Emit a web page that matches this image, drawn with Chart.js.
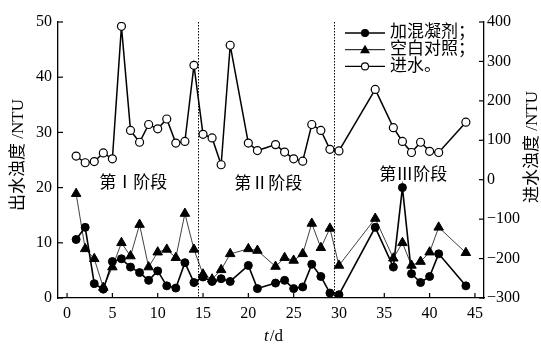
<!DOCTYPE html>
<html lang="zh">
<head>
  <meta charset="UTF-8" />
  <title>出水浊度与进水浊度</title>
  <script src="https://cdn.jsdelivr.net/npm/chart.js"></script>
  <style>
    html, body { margin: 0; padding: 0; background: #ffffff; }
    #wrap { width: 541px; height: 346px; position: relative; }
  </style>
</head>
<body>
  <div id="wrap"><canvas id="turbChart" width="541" height="346"></canvas></div>

  <script>
    // 采样时间 (d)
    const days = [1, 2, 3, 4, 5, 6, 7, 8, 9, 10, 11, 12, 13, 14, 15, 16, 17, 18,
                  20, 21, 23, 24, 25, 26, 27, 28, 29, 30, 34, 36, 37, 38, 39, 40, 41, 44];
    // 加混凝剂 出水浊度 (左轴)
    const coagulant = [10.6, 12.8, 2.6, 1.6, 6.6, 7.1, 5.6, 4.6, 3.2, 4.9, 2.2, 1.8, 6.4, 2.8, 3.8, 3.0, 3.5, 3.0,
                       5.9, 1.7, 2.7, 3.2, 1.7, 2.0, 6.1, 3.9, 0.9, 0.6, 12.8, 5.6, 20.0, 4.4, 2.8, 3.9, 8.0, 2.2];
    // 空白对照 出水浊度 (左轴)
    const blank = [18.9, 8.9, 7.1, 1.9, 5.6, 10.0, 7.6, 13.3, 5.6, 8.3, 8.8, 7.3, 15.3, 8.8, 4.3, 3.4, 5.1, 8.0,
                   8.9, 8.6, 5.7, 7.3, 6.8, 8.0, 13.5, 9.1, 12.6, 5.9, 14.4, 7.2, 10.0, 5.9, 6.6, 8.3, 12.8, 8.2];
    // 进水浊度 (右轴)
    const influent = [60, 43, 46, 68, 53, 389, 125, 95, 140, 129, 154, 93, 97, 290, 115, 106, 38, 341,
                      93, 74, 89, 70, 53, 47, 140, 125, 77, 73, 229, 132, 97, 69, 95, 72, 69, 146];

    const seriesNames = ["加混凝剂；", "空白对照；", "进水。"];
    const xTicks = [0, 5, 10, 15, 20, 25, 30, 35, 40, 45];
    const leftTicks = [0, 10, 20, 30, 40, 50];
    const rightTicks = [-300, -200, -100, 0, 100, 200, 300, 400];
    const phaseBounds = [14.5, 29.5];
    const phaseNames = ["第Ⅰ阶段", "第Ⅱ阶段", "第Ⅲ阶段"];

    const serif = "'Liberation Serif', 'Noto Sans CJK SC', serif";
    const toPoints = vals => vals.map((v, i) => ({ x: days[i], y: v }));

    const decorPlugin = {
      id: "decor",
      afterDatasetsDraw(chart) {
        const ctx = chart.ctx;
        const area = chart.chartArea;
        const sx = chart.scales.x, sy = chart.scales.y, sy1 = chart.scales.y1;

        ctx.save();
        // 阶段分界虚线
        ctx.strokeStyle = "#000";
        ctx.lineWidth = 1;
        ctx.setLineDash([1.5, 1.5]);
        phaseBounds.forEach(b => {
          const px = Math.round(sx.getPixelForValue(b)) + 0.5;
          ctx.beginPath();
          ctx.moveTo(px, area.top);
          ctx.lineTo(px, area.bottom);
          ctx.stroke();
        });
        ctx.setLineDash([]);

        // 内向刻度
        ctx.lineWidth = 1.2;
        xTicks.forEach(t => {
          const px = sx.getPixelForValue(t);
          ctx.beginPath();
          ctx.moveTo(px, area.bottom);
          ctx.lineTo(px, area.bottom - 5);
          ctx.stroke();
        });
        leftTicks.forEach(t => {
          const py = sy.getPixelForValue(t);
          ctx.beginPath();
          ctx.moveTo(area.left, py);
          ctx.lineTo(area.left + 5, py);
          ctx.stroke();
        });
        rightTicks.forEach(t => {
          const py = sy1.getPixelForValue(t);
          ctx.beginPath();
          ctx.moveTo(area.right, py);
          ctx.lineTo(area.right - 5, py);
          ctx.stroke();
        });

        // 阶段文字
        ctx.fillStyle = "#000";
        ctx.font = "17px " + serif;
        ctx.textAlign = "center";
        ctx.textBaseline = "middle";
        const phasePos = [[7.3, 20.8], [22.2, 20.6], [38.2, 22.2]];
        phaseNames.forEach((n, i) => {
          ctx.fillText(n, sx.getPixelForValue(phasePos[i][0]), sy.getPixelForValue(phasePos[i][1]));
        });

        // 图例
        const lx = 345, ly = 33, gap = 16.7;
        chart.data.datasets.forEach((ds, i) => {
          const y = ly + i * gap;
          ctx.strokeStyle = "#000";
          ctx.lineWidth = i === 1 ? 1 : 1.4;
          ctx.beginPath();
          ctx.moveTo(lx, y);
          ctx.lineTo(lx + 40, y);
          ctx.stroke();
          ctx.beginPath();
          if (i === 1) {
            ctx.moveTo(lx + 20, y - 5);
            ctx.lineTo(lx + 25, y + 3.5);
            ctx.lineTo(lx + 15, y + 3.5);
            ctx.closePath();
            ctx.fillStyle = "#000";
            ctx.fill();
          } else {
            ctx.arc(lx + 20, y, 3.5, 0, Math.PI * 2);
            ctx.fillStyle = i === 0 ? "#000" : "#fff";
            ctx.fill();
            ctx.lineWidth = 1.1;
            ctx.stroke();
          }
          ctx.fillStyle = "#000";
          ctx.textAlign = "left";
          ctx.font = "17px " + serif;
          ctx.fillText(seriesNames[i], lx + 45, y);
        });

        // 轴标题
        ctx.textAlign = "center";
        ctx.font = "17px " + serif;
        ctx.save();
        ctx.translate(19, 155);
        ctx.rotate(-Math.PI / 2);
        ctx.fillText("出水浊度 /NTU", 0, 0);
        ctx.restore();
        ctx.save();
        ctx.translate(533, 147);
        ctx.rotate(-Math.PI / 2);
        ctx.fillText("进水浊度 /NTU", 0, 0);
        ctx.restore();

        // t/d
        ctx.textAlign = "left";
        ctx.font = "italic 17px " + serif;
        const wt = ctx.measureText("t").width;
        ctx.font = "17px " + serif;
        const wd = ctx.measureText("/d").width;
        const cx = 273 - (wt + wd) / 2;
        ctx.font = "italic 17px " + serif;
        ctx.fillText("t", cx, 337);
        ctx.font = "17px " + serif;
        ctx.fillText("/d", cx + wt + 1, 337);
        ctx.restore();
      }
    };

    new Chart(document.getElementById("turbChart"), {
      type: "line",
      data: {
        datasets: [
          {
            label: seriesNames[0],
            data: toPoints(coagulant),
            yAxisID: "y",
            borderColor: "#000",
            borderWidth: 1.6,
            pointStyle: "circle",
            pointRadius: 4,
            pointBorderWidth: 1,
            pointBackgroundColor: "#000",
            pointBorderColor: "#000"
          },
          {
            label: seriesNames[1],
            data: toPoints(blank),
            yAxisID: "y",
            borderColor: "#111",
            borderWidth: 0.8,
            pointStyle: "triangle",
            pointRadius: 5.5,
            pointBorderWidth: 1,
            pointBackgroundColor: "#000",
            pointBorderColor: "#000"
          },
          {
            label: seriesNames[2],
            data: toPoints(influent),
            yAxisID: "y1",
            borderColor: "#000",
            borderWidth: 1.5,
            pointStyle: "circle",
            pointRadius: 4,
            pointBorderWidth: 1.2,
            pointBackgroundColor: "#fff",
            pointBorderColor: "#000"
          }
        ]
      },
      options: {
        responsive: false,
        animation: false,
        layout: { padding: { top: 22, left: 0, right: 0, bottom: 0 } },
        plugins: {
          legend: { display: false },
          tooltip: { enabled: false }
        },
        elements: { line: { tension: 0 } },
        scales: {
          x: {
            type: "linear",
            position: "bottom",
            min: -1,
            max: 46,
            afterBuildTicks: s => { s.ticks = xTicks.map(v => ({ value: v })); },
            afterFit: s => { s.height = 48; },
            grid: { display: false, drawTicks: false },
            border: { display: true, color: "#000", width: 1.3 },
            ticks: { color: "#000", padding: 6, font: { family: serif, size: 16 } }
          },
          y: {
            type: "linear",
            position: "left",
            min: 0,
            max: 50,
            afterBuildTicks: s => { s.ticks = leftTicks.map(v => ({ value: v })); },
            afterFit: s => { s.width = 58; },
            grid: { display: false, drawTicks: false },
            border: { display: true, color: "#000", width: 1.3 },
            ticks: { color: "#000", padding: 6, font: { family: serif, size: 16 } }
          },
          y1: {
            type: "linear",
            position: "right",
            min: -300,
            max: 400,
            afterBuildTicks: s => { s.ticks = rightTicks.map(v => ({ value: v })); },
            afterFit: s => { s.width = 57; },
            grid: { display: false, drawTicks: false },
            border: { display: true, color: "#000", width: 1.3 },
            ticks: {
              color: "#000",
              padding: 3,
              font: { family: serif, size: 16 },
              callback: v => String(v).replace("-", "\u2212")
            }
          }
        }
      },
      plugins: [decorPlugin]
    });
  </script>
</body>
</html>
